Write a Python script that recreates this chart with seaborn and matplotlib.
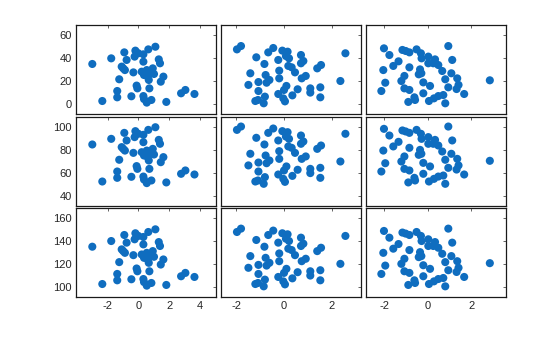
import numpy as np
import pandas as pd
import matplotlib
matplotlib.use("Agg")
import matplotlib.pyplot as plt
import seaborn as sns

# column 1 data (x, y) read from top row
x1 = [-2.99, -2.34, -1.76, -0.91, -0.76, -1.08, -0.98, -0.87, -1.24, -1.37, -1.37, -0.45, -0.32,
      -0.19, -0.24, 0.00, -0.11, -0.06, 0.33, 0.33, 0.22, 0.37, 0.65, 1.11, 0.55, 0.61, 0.76, 0.68,
      0.94, 1.02, 0.72, 0.33, 0.37, 0.55, 0.85, 1.33, 1.41, 1.46, 1.63, 1.82, 2.78, 3.06, 3.65]
y1 = [34.8, 2.6, 39.7, 44.9, 38.3, 32.5, 31.0, 29.5, 21.5, 11.3, 5.8, 6.7, 27.5,
      46.4, 41.2, 44.1, 16.0, 13.6, 43.2, 36.8, 28.1, 25.2, 47.5, 49.8, 29.5, 23.8, 26.7, 20.9,
      31.0, 26.1, 13.6, 6.9, 4.3, 1.2, 3.5, 38.8, 35.4, 19.4, 23.8, 1.8, 9.3, 12.2, 8.7]
# column 2
x2 = [-1.97, -1.80, -1.16, -0.82, -0.66, -0.45, -0.24, -0.07, 0.15, 0.08, 0.21, 0.18, 0.32, -0.20,
      -0.20, 0.46, 0.71, 0.71, 0.81, 0.91, 0.74, 1.39, 1.55, -1.41, -1.49, -1.07, -0.77, -0.61,
      -0.73, -1.07, -0.80, -1.20, -1.09, -0.85, -0.24, -0.03, 0.04, 0.00, 0.10, 0.35, 0.57, 1.10,
      1.10, 1.52, 1.52, 2.36, 2.57]
y2 = [47.5, 50.4, 40.6, 34.8, 44.9, 48.7, 38.3, 46.4, 45.5, 41.7, 39.7, 33.1, 31.9, 29.0,
      22.3, 27.5, 42.6, 35.4, 37.4, 24.4, 22.3, 31.0, 33.9, 26.7, 16.6, 19.1, 25.2, 20.9,
      18.5, 11.3, 6.4, 2.6, 3.5, 0.6, 8.7, 4.9, 2.3, 12.2, 15.7, 7.5, 12.8, 13.6,
      9.9, 14.5, 5.8, 20.0, 44.1]
# column 3
x3 = [-2.01, -1.76, -2.04, -1.95, -2.13, -1.58, -1.34, -1.16, -1.01, -0.84, -0.51, -0.31, -0.28,
      0.03, 0.03, 0.34, 0.26, 0.49, 0.67, 0.95, 1.13, 1.09, 1.36, -0.84, -1.07, -1.21, -0.35,
      -0.41, -0.29, -0.20, 0.11, 0.81, 0.95, 1.42, 1.33, 1.68, -1.07, -0.84, -0.20, -0.61, -0.58,
      -0.89, 0.06, 0.29, 0.49, 0.72, 0.81, 2.86]
y3 = [48.4, 42.6, 29.5, 18.5, 11.3, 33.1, 37.1, 47.0, 46.1, 44.9, 47.5, 44.1, 39.7,
      41.2, 35.4, 38.8, 35.4, 33.9, 28.7, 50.4, 38.3, 26.7, 22.3, 31.9, 24.4, 20.0, 30.1,
      25.8, 26.7, 18.8, 15.7, 21.5, 14.5, 16.6, 13.0, 8.7, 13.6, 12.2, 9.3, 5.8, 3.5,
      1.8, 2.6, 4.9, 6.9, 7.8, 0.6, 20.6]

row_offsets = [0, 50, 100]
xlims = [(-4.05, 5.05), (-2.65, 3.21), (-2.85, 3.59)]
ylims = [(-8.7, 68.7), (31.3, 108.7), (91.4, 168.2)]
xticks = [[-2, 0, 2, 4], [-2, 0, 2], [-2, 0, 2]]
yticks = [[0, 20, 40, 60], [40, 60, 80, 100], [100, 120, 140, 160]]

cols = [(x1, y1), (x2, y2), (x3, y3)]

sns.set_style("white")
plt.rcParams['font.family'] = ['Liberation Sans', 'DejaVu Sans']
plt.rcParams['axes.unicode_minus'] = False

W, H = 560, 337
fig = plt.figure(figsize=(W / 100, H / 100), dpi=100)
lefts = [76, 220.7, 365.7]
tops = [25, 117, 208]
aw, ah = 140, 89
color = '#0F6DBF'

for r in range(3):
    for c in range(3):
        ax = fig.add_axes([lefts[c] / W, 1 - (tops[r] + ah) / H, aw / W, ah / H])
        xs, ys = cols[c]
        df = pd.DataFrame({'x': xs, 'y': np.array(ys) + row_offsets[r]})
        sns.scatterplot(data=df, x='x', y='y', ax=ax, color=color, s=34,
                        edgecolor='none', linewidth=0)
        ax.set_xlim(*xlims[c])
        ax.set_ylim(*ylims[r])
        ax.set_xticks(xticks[c])
        ax.set_yticks(yticks[r])
        ax.set_xlabel('')
        ax.set_ylabel('')
        ax.tick_params(direction='in', length=2.5, width=0.5, colors='#262626',
                       labelsize=8, top=True, right=True, pad=3)
        for s in ax.spines.values():
            s.set_color('#1a1a1a')
            s.set_linewidth(0.9)
        if c != 0:
            ax.set_yticklabels([])
        if r != 2:
            ax.set_xticklabels([])

fig.savefig('out.png', dpi=100, facecolor='white')
